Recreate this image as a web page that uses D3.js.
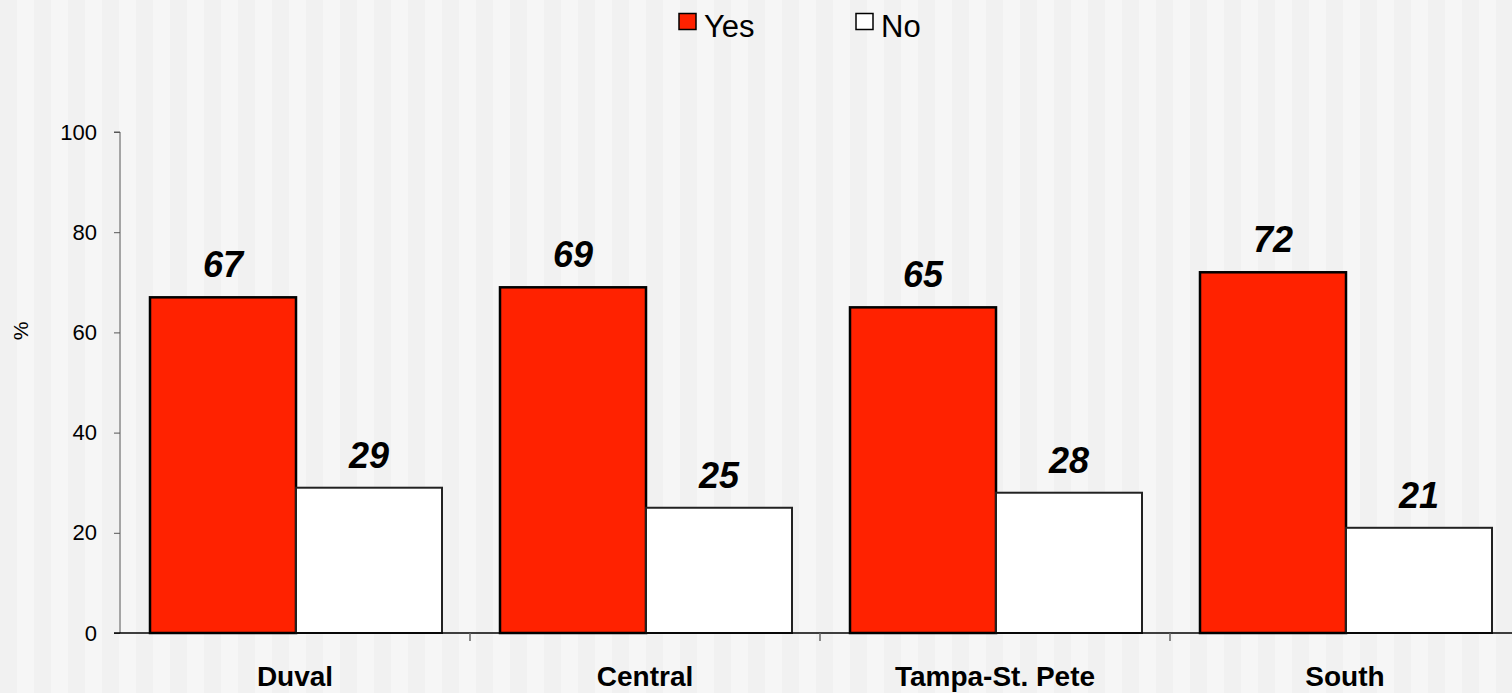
<!DOCTYPE html>
<html><head><meta charset="utf-8">
<script src="https://cdn.jsdelivr.net/npm/d3@7"></script>
<style>body{margin:0;background:#f2f2f2;overflow:hidden}svg{display:block}</style>
</head><body><svg id="c" width="1512" height="693"></svg>
<script>
const categories = ["Duval", "Central", "Tampa-St. Pete", "South"];
const seriesNames = ["Yes", "No"];
const yesValues = [67, 69, 65, 72];
const noValues = [29, 25, 28, 21];
const yTicks = [0, 20, 40, 60, 80, 100];
const colors = ["#ff2200", "#ffffff"];

const W = 1512, H = 693;
const svg = d3.select("#c");
const FONT = "Liberation Sans, Arial, sans-serif";

// striped background
const stripeW = 17;
const stripes = d3.range(0, Math.ceil(W / stripeW));
svg.append("g").selectAll("rect").data(stripes).join("rect")
  .attr("x", d => d * stripeW).attr("y", 0).attr("width", stripeW).attr("height", H)
  .attr("fill", d => d % 2 === 0 ? "#f1f1f1" : "#f6f6f6");

const left = 120, bandW = 350;
const x = d3.scaleBand().domain(categories).range([left, left + bandW * categories.length]);
const sub = d3.scaleBand().domain(seriesNames).range([30, 322]);
const y = d3.scaleLinear().domain([0, 100]).range([633, 132]);

// bars
const data = categories.map((c, i) => ({c, vals: [yesValues[i], noValues[i]]}));
const g = svg.append("g");
data.forEach(d => {
  d.vals.forEach((v, j) => {
    const bx = x(d.c) + sub(seriesNames[j]);
    g.append("rect").attr("x", bx).attr("y", y(v)).attr("width", sub.bandwidth()).attr("height", y(0) - y(v))
      .attr("fill", colors[j]).attr("stroke", j === 0 ? "#000" : "#222").attr("stroke-width", j === 0 ? 2.5 : 2);
    g.append("text").attr("x", bx + sub.bandwidth() / 2).attr("y", y(v) - 20)
      .attr("text-anchor", "middle").attr("font-family", FONT)
      .attr("font-weight", "bold").attr("font-style", "italic").attr("font-size", 36).attr("fill", "#000").text(v);
  });
});

// y axis
const yAxis = svg.append("g").attr("transform", `translate(${left},0)`)
  .call(d3.axisLeft(y).tickValues(yTicks).tickSize(6).tickPadding(17));
yAxis.select(".domain").attr("stroke", "#555").attr("d", `M-6,${y(100)}H0V${y(0)}`);
yAxis.selectAll(".tick line").attr("stroke", "#555");
yAxis.selectAll("text").attr("font-family", FONT).attr("font-size", 22).attr("fill", "#000");

// x axis
svg.append("line").attr("x1", left - 6).attr("x2", W).attr("y1", y(0)).attr("y2", y(0)).attr("stroke", "#000").attr("stroke-width", 1.5);
svg.append("g").selectAll("line").data(categories.slice(1)).join("line")
  .attr("x1", d => x(d)).attr("x2", d => x(d)).attr("y1", y(0)).attr("y2", y(0) + 8)
  .attr("stroke", "#666").attr("stroke-width", 1.5);
svg.append("g").selectAll("text").data(categories).join("text")
  .attr("x", d => x(d) + bandW / 2).attr("y", 686).attr("text-anchor", "middle")
  .attr("font-family", FONT).attr("font-weight", "bold").attr("font-size", 28).attr("fill", "#000")
  .text(d => d);

// y label
svg.append("text").attr("transform", "translate(28,331) rotate(-90)").attr("text-anchor", "middle")
  .attr("font-family", FONT).attr("font-size", 21).text("%");

// legend
const legX = [679, 856];
const leg = svg.append("g");
seriesNames.forEach((s, i) => {
  leg.append("rect").attr("x", legX[i]).attr("y", 13.5).attr("width", 17).attr("height", 16)
    .attr("fill", colors[i]).attr("stroke", "#000").attr("stroke-width", 1.5);
  leg.append("text").attr("x", legX[i] + 25).attr("y", 37)
    .attr("font-family", FONT).attr("font-size", 31).attr("fill", "#000").text(s);
});
</script></body></html>
